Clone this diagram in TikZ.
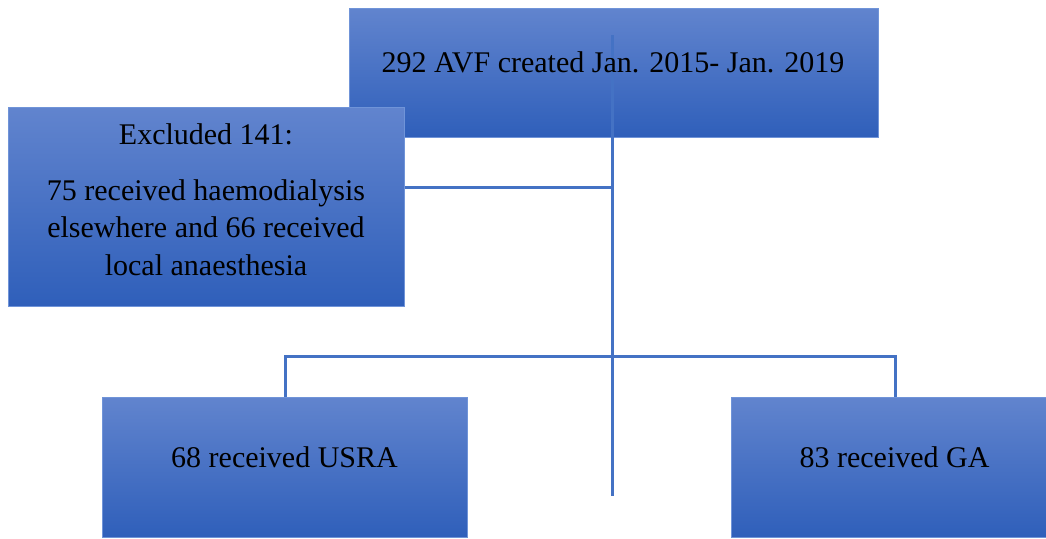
\documentclass[tikz,border=0pt]{standalone}
\usepackage{fontspec}
\setmainfont{Liberation Serif}
\definecolor{boxtop}{HTML}{6184CE}
\definecolor{boxbot}{HTML}{2F5FBA}
\definecolor{boxline}{HTML}{7094D8}
\definecolor{conn}{HTML}{4472C4}
\begin{document}
\begin{tikzpicture}[x=1pt,y=-1pt,
  bluebox/.style={draw=boxline,line width=1pt,top color=boxtop,bottom color=boxbot,
    rectangle,inner sep=0pt,anchor=north west},
  boxtext/.style={font=\fontsize{30}{37.5}\selectfont,text=black,inner sep=0pt},
  connector/.style={draw=conn,line width=3pt}]
\useasboundingbox (0,0) rectangle (1046,538);
\clip (0,0) rectangle (1046,538);
% boxes
\node[bluebox,minimum width=529pt,minimum height=129pt] (topbox) at (349,8) {};
\node[bluebox,minimum width=396pt,minimum height=199pt] (excl) at (8,107) {};
% connectors
\coordinate (tstart) at (612,35);
\coordinate (tend) at (612,496);
\coordinate (ejoin) at (612,187);
\draw[connector] (tstart) -- (tend);
\draw[connector] (excl.east |- ejoin) -- (ejoin);
\node[bluebox,minimum width=365pt,minimum height=140pt] (usra) at (102,397) {};
\node[bluebox,minimum width=328pt,minimum height=140pt] (ga) at (731,397) {};
\draw[connector] (usra.north) -- ++(0,-41) -| (ga.north);
% texts
\node[boxtext,anchor=base] (toptext) at (613,72) {292 AVF created Jan. 2015- Jan. 2019};
\node[boxtext,anchor=north,align=center] (excltext) at (206,123.5)
  {Excluded 141:\\[18pt]75 received haemodialysis\\elsewhere and 66 received\\local anaesthesia};
\node[boxtext,anchor=base] (usratext) at (284.5,467) {68 received USRA};
\node[boxtext,anchor=base] (gatext) at (894.5,467) {83 received GA};
\end{tikzpicture}
\end{document}
